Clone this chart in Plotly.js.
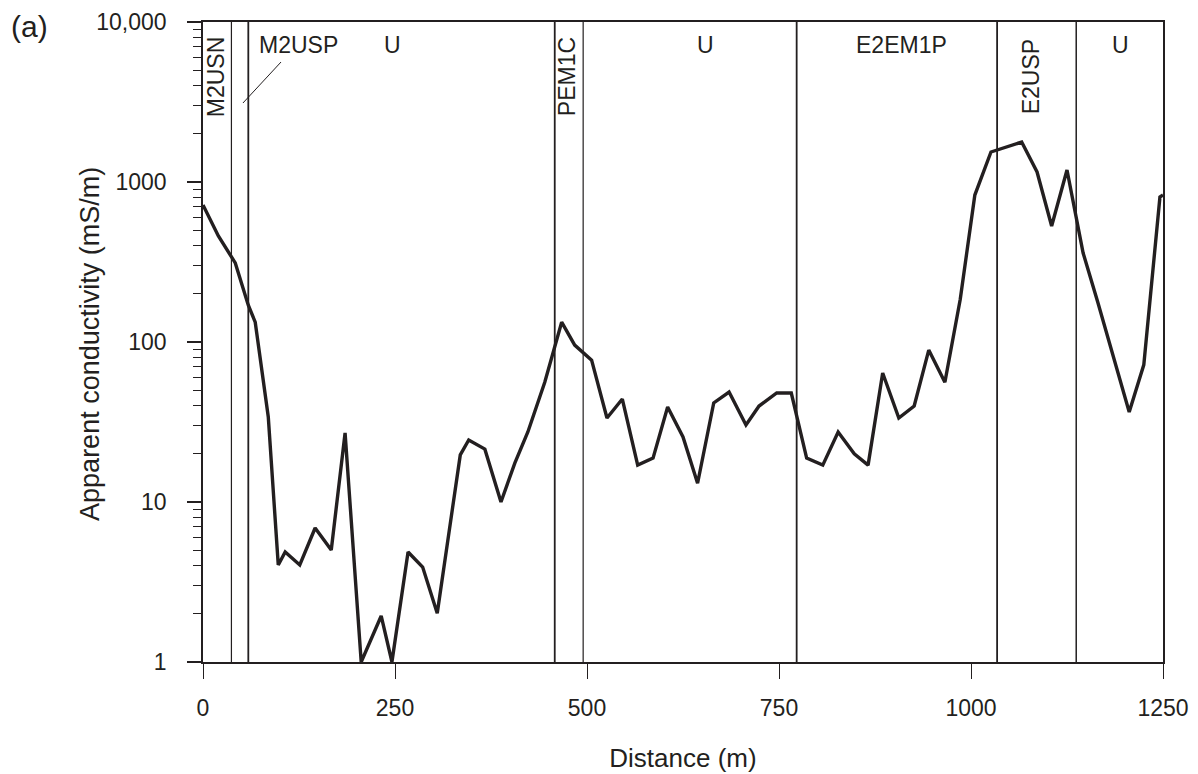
<!DOCTYPE html>
<html>
<head>
<meta charset="utf-8">
<script src="https://cdn.plot.ly/plotly-3.0.1.min.js"></script>
<style>
  html, body { margin: 0; padding: 0; background: #ffffff; }
  #chart { width: 1198px; height: 774px; }
</style>
</head>
<body>
<div id="chart"></div>
<script>
// Distance along the transect (m)
const distance = [0, 20, 42, 59, 68, 85, 98, 107, 126, 146, 167, 185, 206, 232, 246, 267, 286, 305,
  335, 346, 367, 388, 406, 423, 445, 467, 484, 506, 526, 546, 566, 586, 605, 625, 644, 665, 685,
  707, 724, 747, 766, 786, 807, 827, 848, 866, 885, 906, 926, 945, 966, 986, 1005, 1026, 1066,
  1086, 1105, 1125, 1146, 1165, 1206, 1225, 1246, 1250];
// Apparent conductivity (mS/m)
const conductivity = [718, 460, 312, 170, 133, 34, 4.04, 4.87, 4.04, 6.88, 5.01, 27, 1, 1.94, 1, 4.87, 3.92, 2.02,
  19.7, 24.4, 21.4, 10, 17.5, 27.4, 56, 133, 95.6, 77, 33.5, 44, 17, 18.8, 39.2, 25.5, 13.1, 41.6, 48.7,
  30.3, 39.8, 48, 48, 18.8, 17, 27.4, 20, 17, 64, 33.5, 39.8, 89, 56, 185, 829, 1540, 1778,
  1155, 531, 1189, 360, 178, 36.5, 72, 806, 829];

// Unit boundaries (m) and line weights
const boundaries = [37, 59, 458, 495, 773, 1034, 1137];
const boundaryWeights = [1.2, 1.8, 1.8, 1.2, 1.8, 1.8, 1.5];

// Unit labels
const unitLabels = ["M2USN", "M2USP", "U", "PEM1C", "U", "E2EM1P", "E2USP", "U"];
const unitLabelX = [18, 124, 247, 475, 654, 910, 1078, 1195];
const unitLabelVertical = [true, false, false, true, false, false, true, false];

// Axis ticks
const xTicks = [0, 250, 500, 750, 1000, 1250];
const yTickVals = [1, 10, 100, 1000, 10000];
const yTickText = ["1", "10", "100", "1000", "10,000"];

const ink = "#231f20";
const fontFamily = "'Liberation Sans', Arial, Helvetica, sans-serif";

const minorVals = [];
for (let d = 1; d < 10000; d *= 10) {
  for (let k = 2; k <= 9; k++) minorVals.push(k * d);
}

const shapes = boundaries.map((b, i) => ({
  type: "line", xref: "x", yref: "paper",
  x0: b, x1: b, y0: 0, y1: 1,
  line: { color: ink, width: boundaryWeights[i] },
  layer: "below"
}));
// leader line from the M2USP label to its narrow unit
shapes.push({
  type: "line", xref: "x", yref: "paper",
  x0: 52, y0: 0.8734, x1: 101.6, y1: 0.9375,
  line: { color: ink, width: 1 }
});

const annotations = unitLabels.map((t, i) => ({
  text: t, xref: "x", yref: "paper",
  x: unitLabelX[i],
  y: unitLabelVertical[i] ? 0.915 : 0.964,
  textangle: unitLabelVertical[i] ? -90 : 0,
  showarrow: false,
  xanchor: "center", yanchor: "middle",
  font: { family: fontFamily, size: 23, color: ink }
}));
annotations.push({
  text: "(a)", xref: "paper", yref: "paper",
  x: -0.181, y: 0.993, xanchor: "center", yanchor: "middle",
  showarrow: false,
  font: { family: fontFamily, size: 30, color: ink }
});
annotations.push({
  text: "Apparent conductivity (mS/m)", xref: "paper", yref: "paper",
  x: -0.1177, y: 0.497, xanchor: "center", yanchor: "middle",
  textangle: -90, showarrow: false,
  font: { family: fontFamily, size: 27, color: ink }
});

const trace = {
  x: distance, y: conductivity,
  type: "scatter", mode: "lines",
  line: { color: ink, width: 3.4 },
  hoverinfo: "x+y"
};

const layout = {
  width: 1198, height: 774,
  margin: { l: 203, r: 35, t: 22, b: 112 },
  paper_bgcolor: "#ffffff", plot_bgcolor: "#ffffff",
  showlegend: false,
  font: { family: fontFamily, color: ink },
  xaxis: {
    range: [0, 1250],
    tickmode: "array", tickvals: xTicks,
    ticks: "outside", ticklen: 15, tickwidth: 1.2, tickcolor: ink,
    showline: true, linecolor: ink, linewidth: 1.6, mirror: true,
    showgrid: false, zeroline: false,
    tickfont: { family: fontFamily, size: 23, color: ink },
    ticklabelstandoff: 10,
    title: { text: "Distance (m)", font: { family: fontFamily, size: 26, color: ink }, standoff: 28 }
  },
  yaxis: {
    type: "log", range: [0, 4],
    tickmode: "array", tickvals: yTickVals, ticktext: yTickText,
    ticks: "outside", ticklen: 14, tickwidth: 1.6, tickcolor: ink,
    minor: { tickmode: "array", tickvals: minorVals, ticks: "outside", ticklen: 8, tickwidth: 1.4, tickcolor: ink, showgrid: false },
    showline: true, linecolor: ink, linewidth: 1.6, mirror: true,
    showgrid: false, zeroline: false,
    tickfont: { family: fontFamily, size: 23, color: ink },
    ticklabelstandoff: 16
  },
  shapes: shapes,
  annotations: annotations
};

Plotly.newPlot("chart", [trace], layout, { displayModeBar: false });
</script>
</body>
</html>
